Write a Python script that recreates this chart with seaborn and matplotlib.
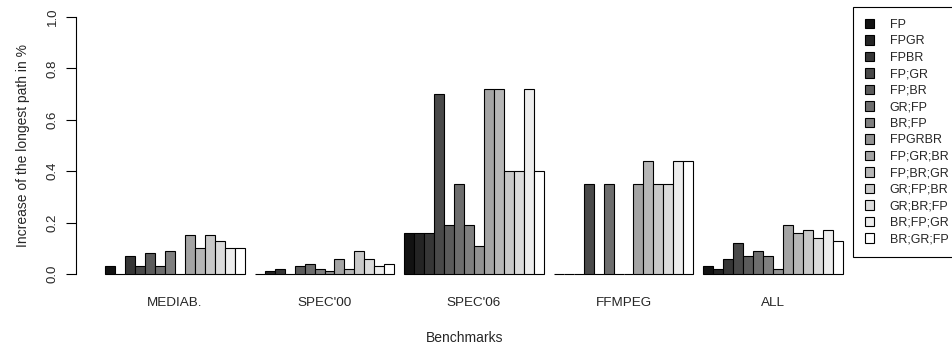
import numpy as np
import pandas as pd
import matplotlib
matplotlib.use('Agg')
import matplotlib.pyplot as plt
import seaborn as sns

benchmarks = ['MEDIAB.', "SPEC'00", "SPEC'06", 'FFMPEG', 'ALL']
configs = ['FP', 'FPGR', 'FPBR', 'FP;GR', 'FP;BR', 'GR;FP', 'BR;FP', 'FPGRBR',
           'FP;GR;BR', 'FP;BR;GR', 'GR;FP;BR', 'GR;BR;FP', 'BR;FP;GR', 'BR;GR;FP']

mediab = [0.03, 0.00, 0.07, 0.03, 0.08, 0.03, 0.09, 0.00, 0.15, 0.10, 0.15, 0.13, 0.10, 0.10]
spec00 = [0.00, 0.01, 0.02, 0.00, 0.03, 0.04, 0.02, 0.01, 0.06, 0.02, 0.09, 0.06, 0.03, 0.04]
spec06 = [0.16, 0.16, 0.16, 0.70, 0.19, 0.35, 0.19, 0.11, 0.72, 0.72, 0.40, 0.40, 0.72, 0.40]
ffmpeg = [0.00, 0.00, 0.00, 0.35, 0.00, 0.35, 0.00, 0.00, 0.35, 0.44, 0.35, 0.35, 0.44, 0.44]
all_b = [0.03, 0.02, 0.06, 0.12, 0.07, 0.09, 0.07, 0.02, 0.19, 0.16, 0.17, 0.14, 0.17, 0.13]

rows = []
for bench, vals in zip(benchmarks, [mediab, spec00, spec06, ffmpeg, all_b]):
    for cfg, v in zip(configs, vals):
        rows.append({'bench': bench, 'config': cfg, 'value': v})
df = pd.DataFrame(rows)

sns.set_style('white')
plt.rcParams['font.family'] = ['Liberation Sans', 'DejaVu Sans']

# grey ramp from near black to white
greys = [str(g) for g in np.linspace(0.07, 1.0, len(configs))]

W, H = 953, 347
fig = plt.figure(figsize=(W / 100, H / 100), dpi=100)
# y=0 at 274px, y=1 at 17px; axis from x=76px
left = 76 / W
right = 853 / W
bottom = (H - (274 + 0.04 * 257)) / H
height = 257 * 1.08 / H
ax = fig.add_axes([left, bottom, right - left, height])

sns.barplot(data=df, x='bench', y='value', hue='config', hue_order=configs,
            order=benchmarks, palette=greys, saturation=1, errorbar=None,
            edgecolor='black', linewidth=0.8, width=0.933, ax=ax)

for p in ax.patches:
    p.set_clip_on(False)

# x: category 0 centre at 175px, spacing 149.5px
ax.set_xlim((76 - 175) / 149.5, (853 - 175) / 149.5)
ax.set_ylim(-0.04, 1.04)

for s in ['top', 'right', 'bottom']:
    ax.spines[s].set_visible(False)
ax.spines['left'].set_bounds(0, 1)
ax.spines['left'].set_color('black')
ax.spines['left'].set_linewidth(0.8)

ax.set_yticks([0, 0.2, 0.4, 0.6, 0.8, 1.0])
ax.set_yticklabels(['0.0', '0.2', '0.4', '0.6', '0.8', '1.0'], rotation=90, va='center')
ax.tick_params(axis='y', direction='out', length=7, width=0.8, color='black',
               labelsize=9.5, pad=5.5, left=True)
ax.tick_params(axis='x', length=0, labelsize=9.7, pad=9.5)

ax.set_xlabel('Benchmarks', fontsize=10, labelpad=15.5)
ax.set_ylabel('Increase of the longest path in %', fontsize=10, labelpad=12)

handles, labels = ax.get_legend_handles_labels()
ax.legend(handles, labels, loc='upper left', bbox_to_anchor=(853 / W, 1 - 7 / H),
          bbox_transform=fig.transFigure, frameon=True, fancybox=False,
          edgecolor='black', framealpha=1, fontsize=9, borderaxespad=0,
          borderpad=0.95, labelspacing=0.36, handlelength=0.75, handleheight=0.75,
          handletextpad=1.25)
ax.get_legend().get_frame().set_linewidth(0.8)

fig.savefig('out.png', dpi=100)
